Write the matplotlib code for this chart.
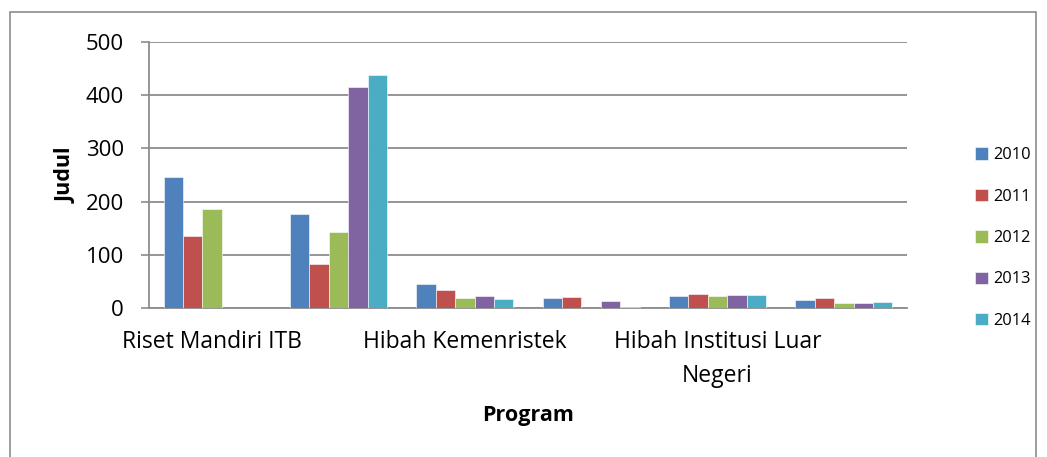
import matplotlib.pyplot as plt
import numpy as np
from matplotlib.patches import Rectangle

# Data
programs = ["Riset Mandiri ITB", "", "Hibah Kemenristek", "",
            "Hibah Institusi Luar\nNegeri", ""]
years = ["2010", "2011", "2012", "2013", "2014"]
v2010 = [247, 176, 45, 19, 22, 16]
v2011 = [135, 83, 33, 21, 27, 19]
v2012 = [186, 142, 18, 0, 23, 10]
v2013 = [0, 415, 22, 14, 24, 9]
v2014 = [0, 438, 17, 2, 25, 11]

series = [v2010, v2011, v2012, v2013, v2014]
colors = ["#4F81BD", "#C0504D", "#9BBB59", "#8064A2", "#4BACC6"]

plt.rcParams['font.family'] = ['Open Sans', 'DejaVu Sans']

fig = plt.figure(figsize=(10.47, 4.57), dpi=100)
ax = fig.add_axes([0.1423, 0.326, 0.724, 0.582])

# outer chart border
fig.patches.append(Rectangle((10/1047, -0.01), 1026/1047, 1 - 12/457 + 0.01,
                             transform=fig.transFigure, fill=False,
                             edgecolor="#8c8c8c", linewidth=1.2))

x = np.arange(len(programs))
w = 0.154
for i, (vals, c, yr) in enumerate(zip(series, colors, years)):
    ax.bar(x + (i - 2) * w, vals, w, color=c, edgecolor="white",
           linewidth=0.4, label=yr, zorder=3)

ax.set_xlim(-0.5, len(programs) - 0.5)
ax.set_ylim(0, 500)
ax.set_yticks(range(0, 501, 100))
ax.yaxis.grid(True, color="#8c8c8c", linewidth=1.3, zorder=0)
ax.set_xticks(x)
ax.set_xticklabels(programs, fontsize=16.5, linespacing=1.55)
ax.tick_params(axis="x", length=0, pad=16)
ax.tick_params(axis="y", labelsize=16, length=6, color="#8c8c8c",
               width=1.2, pad=12)
for s in ["top", "right"]:
    ax.spines[s].set_visible(False)
for s in ["left", "bottom"]:
    ax.spines[s].set_color("#8c8c8c")
    ax.spines[s].set_linewidth(1.3)

ax.set_ylabel("Judul", fontsize=15.5, fontweight="bold")
ax.set_xlabel("Program", fontsize=15.5, fontweight="bold")
ax.yaxis.set_label_coords(-0.095, 0.5)
ax.xaxis.set_label_coords(0.5, -0.365)

ax.legend(loc="center left", bbox_to_anchor=(1.07, 0.263), frameon=False,
          fontsize=11.8, handlelength=0.8, handleheight=0.8,
          labelspacing=1.55, handletextpad=0.3)

fig.savefig("out.png", dpi=100)
